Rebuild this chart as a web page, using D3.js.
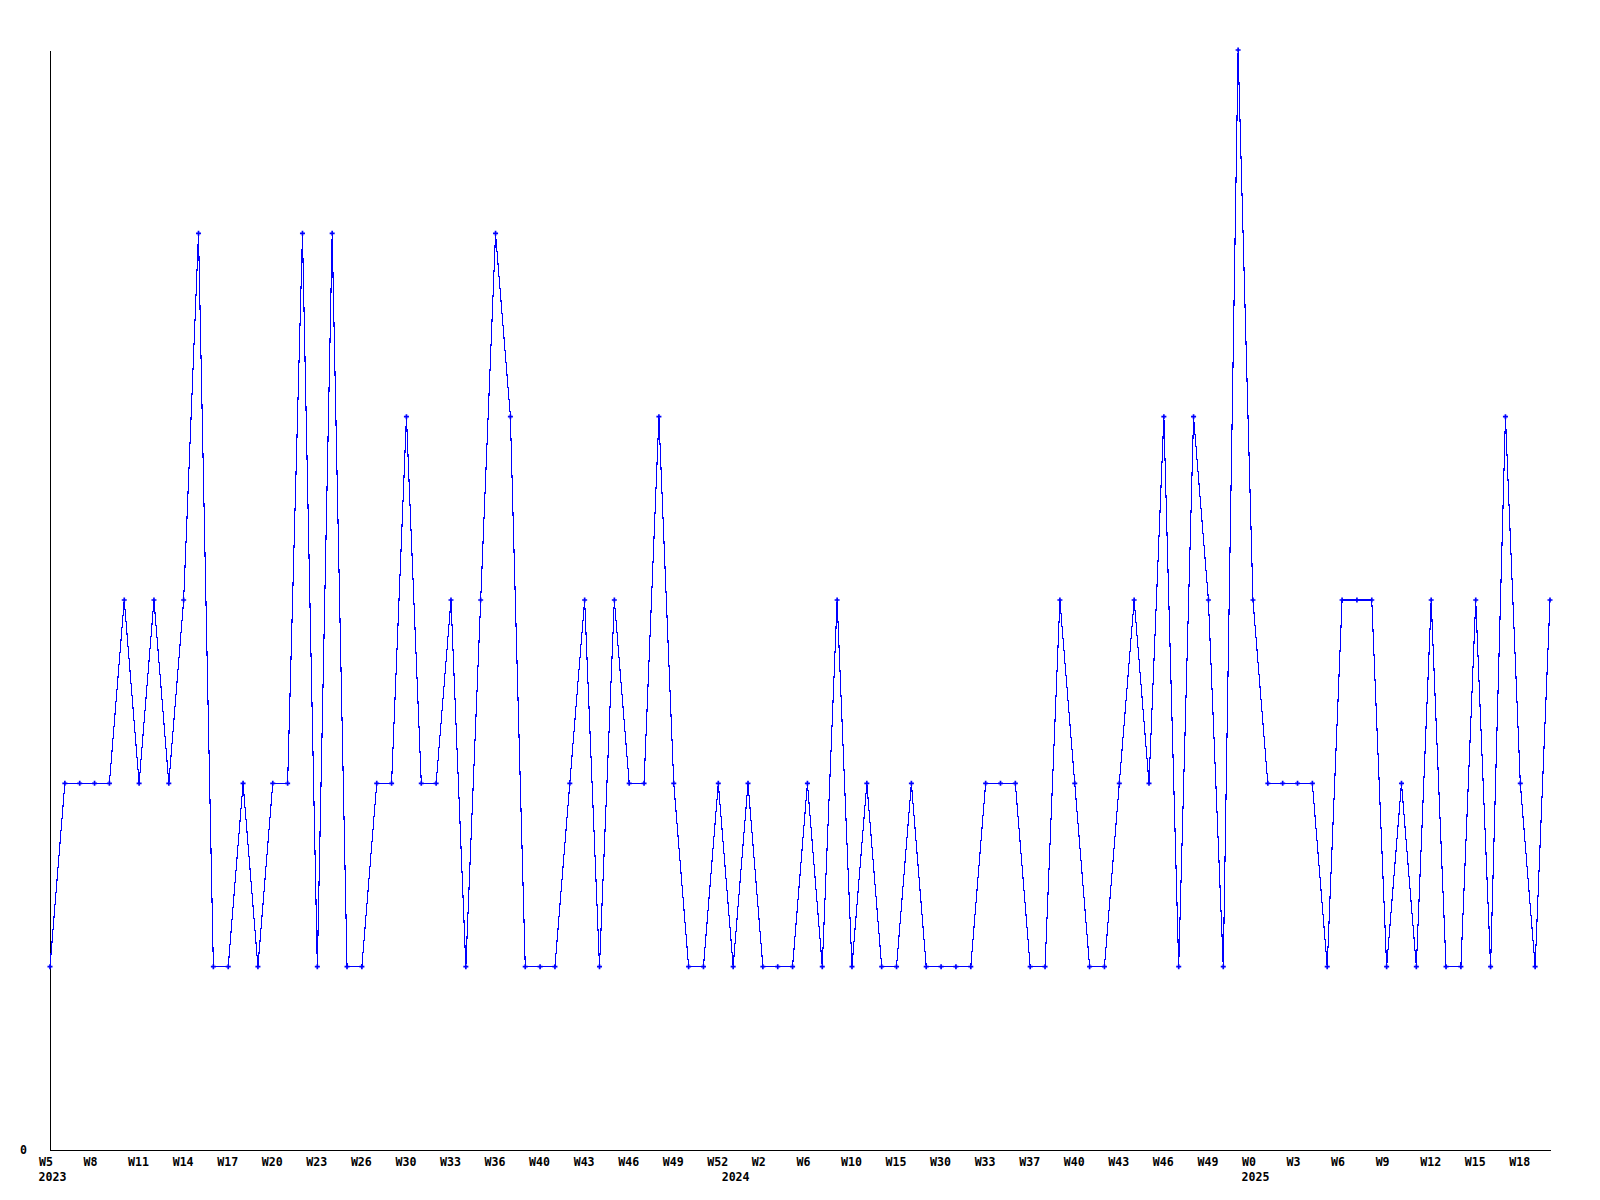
<!DOCTYPE html>
<html>
<head>
<meta charset="utf-8">
<script src="https://cdn.jsdelivr.net/npm/d3@7"></script>
<style>
  html, body { margin: 0; padding: 0; background: #ffffff; }
  svg { display: block; }
  text { font-family: "DejaVu Sans Mono", "Liberation Mono", monospace; font-weight: bold; font-size: 11.6px; fill: #000; }
</style>
</head>
<body>
<svg id="chart" width="1600" height="1200"></svg>
<script>
// ---- data ----
const values = [
  1, 2, 2, 2, 2, 3, 2, 3, 2, 3,
  5, 1, 1, 2, 1, 2, 2, 5, 1, 5,
  1, 1, 2, 2, 4, 2, 2, 3, 1, 3,
  5, 4, 1, 1, 1, 2, 3, 1, 3, 2,
  2, 4, 2, 1, 1, 2, 1, 2, 1, 1,
  1, 2, 1, 3, 1, 2, 1, 1, 2, 1,
  1, 1, 1, 2, 2, 2, 1, 1, 3, 2,
  1, 1, 2, 3, 2, 4, 1, 4, 3, 1,
  6, 3, 2, 2, 2, 2, 1, 3, 3, 3,
  1, 2, 1, 3, 1, 1, 3, 1, 4, 2,
  1, 3
];
const tickLabels = [
  "W5", "W8", "W11", "W14", "W17", "W20", "W23", "W26", "W30", "W33",
  "W36", "W40", "W43", "W46", "W49", "W52", "W2", "W6", "W10", "W15",
  "W30", "W33", "W37", "W40", "W43", "W46", "W49", "W0", "W3", "W6",
  "W9", "W12", "W15", "W18"
];
const tickStep = 3;                 // one week label every 3rd point
const yearLabels = ["2023", "2024", "2025"];
const yearStartIndex = [0, 46, 81];
const yTickValues = [0];

(function () {
  const svg = d3.select("#chart");
  const mLeft = 50, mRight = 1550, mTop = 50, mBottom = 1150;

  const x = d3.scaleLinear().domain([0, values.length - 1]).range([mLeft, mRight]);
  const y = d3.scaleLinear().domain([0, d3.max(values)]).range([mBottom, mTop]);

  svg.append("rect").attr("width", 1600).attr("height", 1200).attr("fill", "#fff");

  // y axis
  const yAxis = d3.axisLeft(y).tickValues(yTickValues).tickFormat(d3.format("d"))
    .tickSize(0).tickSizeOuter(0).tickPadding(25);
  const gy = svg.append("g").attr("transform", `translate(${mLeft},0)`).call(yAxis);
  gy.select(".domain").attr("stroke", "#000").attr("shape-rendering", "crispEdges");
  gy.selectAll("text").attr("font-family", null).attr("font-size", null)
    .attr("text-anchor", "start").attr("x", -30);

  // x axis
  const tickIdx = tickLabels.map((_, i) => i * tickStep);
  const xAxis = d3.axisBottom(x).tickValues(tickIdx)
    .tickFormat((d, i) => tickLabels[i]).tickSize(0).tickSizeOuter(0).tickPadding(8);
  const gx = svg.append("g").attr("transform", `translate(0,${mBottom})`).call(xAxis);
  gx.select(".domain").attr("stroke", "#000").attr("shape-rendering", "crispEdges");
  gx.selectAll("text").attr("font-family", null).attr("font-size", null)
    .attr("text-anchor", "start").attr("x", -11.5);

  // year labels
  svg.append("g").selectAll("text").data(yearLabels).join("text")
    .attr("x", (d, i) => x(yearStartIndex[i]) - 11.5)
    .attr("y", 1181)
    .attr("text-anchor", "start")
    .text(d => d);

  // data line
  const line = d3.line().x((d, i) => x(i)).y(d => y(d));
  svg.append("path").datum(values)
    .attr("d", line)
    .attr("fill", "none")
    .attr("stroke", "#0000ff")
    .attr("stroke-width", 1.1)
    .attr("shape-rendering", "crispEdges");

  // markers
  svg.append("g").selectAll("path").data(values).join("path")
    .attr("transform", (d, i) => `translate(${x(i)},${y(d)})`)
    .attr("d", d3.symbol().type(d3.symbolCross).size(14))
    .attr("fill", "#0000ff");
})();
</script>
</body>
</html>
